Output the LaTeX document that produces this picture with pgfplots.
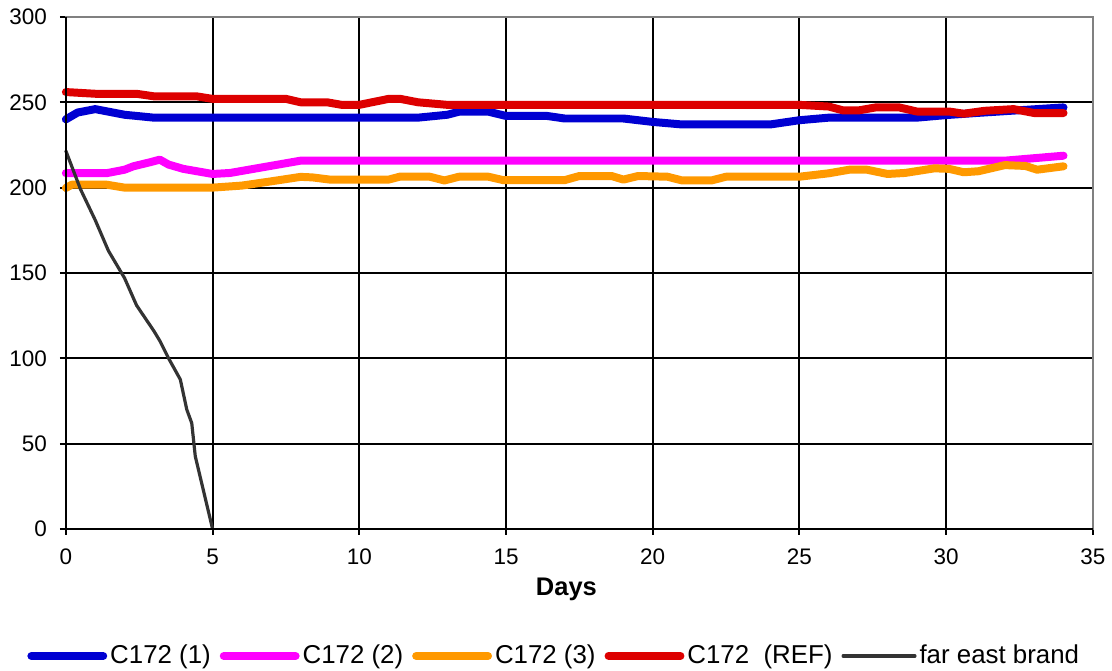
\documentclass[border=0pt]{standalone}
\usepackage{fontspec}
\setmainfont{Liberation Sans}
\usepackage{pgfplots}
\pgfplotsset{compat=1.18}
\definecolor{cblue}{RGB}{0,0,210}
\definecolor{cmag}{RGB}{255,0,255}
\definecolor{corange}{RGB}{255,153,0}
\definecolor{cred}{RGB}{221,0,0}
\definecolor{cdark}{RGB}{51,51,51}
\begin{document}
\begin{tikzpicture}
\begin{axis}[
  scale only axis,
  width=514.5bp, height=256.5bp,
  xmin=0, xmax=35, ymin=0, ymax=300,
  xtick={0,5,...,35}, ytick={0,50,...,300},
  xtick pos=bottom, ytick pos=left,
  tick align=outside, major tick length=3bp,
  tick style={black, line width=1pt},
  grid=major, grid style={black, line width=1pt},
  axis line style={draw=gray, line width=1pt},
  ticklabel style={font=\fontsize{11.3}{13}\selectfont},
  xticklabel style={yshift=-3.5bp},
  yticklabel style={xshift=-3bp},
  /pgf/number format/assume math mode=true,
  xlabel={\textbf{Days}},
  xlabel style={font=\fontsize{12.8}{14}\selectfont, yshift=0.5bp, xshift=-6.5bp},
  legend columns=-1,
  legend style={draw=none, fill=none, at={(0.476,-0.248)}, anchor=center,
    font=\fontsize{13}{15}\selectfont, inner sep=0pt,
    nodes={inner xsep=1.5bp},
    /tikz/every even column/.append style={column sep=3bp}},
  legend image code/.code={\draw[#1] (0bp,0bp) -- (36bp,0bp);},
  every axis plot/.append style={line join=round, line cap=round},
  clip=false,
]
\addplot[cblue, line width=4bp] coordinates {
(0,240)(0.4,244)(1,246)(2,242.7)(3,241)(12,241)(13,242.7)(13.4,244.5)(14.4,244.5)(15,242)(16.4,242)(17,240.5)(19,240.5)(20,238.5)(21,237)(24,237)(25,239.5)(26,241)(29,241)(30,242.5)(31,243.7)(34,247)
};
\addlegendentry{C172 (1)}
\addplot[cmag, line width=4bp] coordinates {
(0,208.5)(1.4,208.5)(2,210.5)(2.3,212.5)(2.9,215)(3.2,216.4)(3.5,213.5)(4,211)(5,208)(5.6,208.6)(8,215.8)(32,215.8)(34,218.7)
};
\addlegendentry{C172 (2)}
\addplot[corange, line width=4bp] coordinates {
(0,199.8)(0.2,201.7)(1.4,201.7)(2,200)(5,200)(6,201.2)(7,203.7)(8,206.3)(8.4,206)(9,204.7)(11,204.7)(11.4,206.5)(12.4,206.4)(12.9,204.2)(13.4,206.4)(14.4,206.4)(14.9,204.4)(17,204.4)(17.5,206.8)(18.6,206.8)(19,204.7)(19.5,206.8)(20.5,206.4)(21,204.2)(22,204.2)(22.5,206.4)(25,206.4)(26,208.4)(26.7,210.5)(27.3,210.5)(28,208)(28.6,208.6)(29.6,211.3)(30.1,211)(30.6,209)(31.1,209.6)(32,213.2)(32.7,212.7)(33.1,210.5)(34,212.5)
};
\addlegendentry{C172 (3)}
\addplot[cred, line width=4bp] coordinates {
(0,256)(1,255)(2.4,255)(3,253.5)(4.45,253.5)(5,252)(7.5,252)(8,250)(8.9,250)(9.4,248.5)(10,248.5)(11,252)(11.4,252)(12,250)(13,248.5)(25,248.5)(26,247.5)(26.5,245.2)(27,245.2)(27.6,247)(28.4,247)(29,244.6)(30.1,244.6)(30.6,243.3)(31.3,245)(32.3,246)(33,243.7)(34,243.7)
};
\addlegendentry{C172 \ (REF)}
\addplot[cdark, line width=1.6bp] coordinates {
(0,221.5)(0.5,199)(1,181)(1.45,163)(2,147)(2.41,131)(3,116)(3.21,110)(3.5,100)(3.9,87.6)(4.12,70)(4.29,62)(4.41,42.6)(5,0)
};
\addlegendentry{far east brand}
\draw[black, line width=1pt] (rel axis cs:0,1) -- (rel axis cs:0,0) -- (rel axis cs:1,0);
\end{axis}
\path[use as bounding box] (-33bp,-70.5bp) rectangle (523bp,265bp);
\end{tikzpicture}
\end{document}
